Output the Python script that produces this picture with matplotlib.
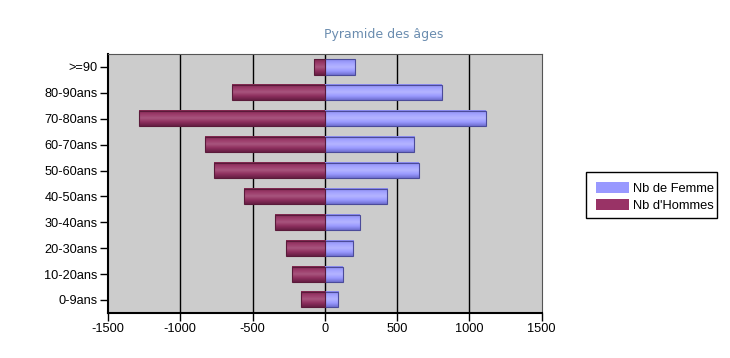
import matplotlib.pyplot as plt
import numpy as np
from matplotlib.colors import LinearSegmentedColormap
from matplotlib.patches import Patch, Rectangle

plt.rcParams['font.family'] = ['Liberation Sans', 'DejaVu Sans']
plt.rcParams['axes.unicode_minus'] = False

ages = ["0-9ans", "10-20ans", "20-30ans", "30-40ans", "40-50ans",
        "50-60ans", "60-70ans", "70-80ans", "80-90ans", ">=90"]
femmes = [94, 124, 198, 242, 433, 650, 617, 1113, 809, 207]
hommes = [168, 226, 270, 346, 558, 767, 829, 1283, 641, 72]

fig = plt.figure(figsize=(7.3, 3.58), dpi=100)
ax = fig.add_axes([0.148, 0.126, 0.594, 0.723])
ax.set_facecolor('#cccccc')

y = np.arange(len(ages))
h = 0.58
bf = ax.barh(y, femmes, height=h, color='#9999ff', edgecolor='#4b4b9a', linewidth=0.8,
             label='Nb de Femme', zorder=3)
bh = ax.barh(y, [-v for v in hommes], height=h, color='#993366', edgecolor='#5a1a3a',
             linewidth=0.8, label="Nb d'Hommes", zorder=3)

# gradient fill for the cylinder look (bottom -> top)
cm_f = LinearSegmentedColormap.from_list('f', ['#6f6fd0', '#9a9aff', '#b4b4ff', '#a3a3ff', '#8888ee'])
cm_h = LinearSegmentedColormap.from_list('h', ['#661f44', '#8e2f5e', '#a8557e', '#9a3a69', '#80284f'])
grad = np.linspace(0, 1, 64).reshape(-1, 1)
for bars, cm in ((bf, cm_f), (bh, cm_h)):
    for b in bars:
        x0, y0 = b.get_x(), b.get_y()
        w, hh = b.get_width(), b.get_height()
        ax.imshow(grad, cmap=cm, aspect='auto', origin='lower',
                  extent=(x0, x0 + w, y0, y0 + hh), zorder=3.5)
    for b in bars:
        b.set_facecolor('none')
        b.set_zorder(4)

ax.set_xlim(-1500, 1500)
ax.set_ylim(-0.5, len(ages) - 0.5)
ax.set_xticks([-1500, -1000, -500, 0, 500, 1000, 1500])
ax.set_yticks(y)
ax.set_yticklabels(ages)
ax.tick_params(labelsize=9.2, length=5.5, width=1, pad=2)
for v in [-1000, -500, 0, 500, 1000]:
    ax.axvline(v, color='black', linewidth=1, zorder=2)

ax.spines['left'].set_linewidth(1.5)
ax.spines['bottom'].set_linewidth(1.5)
ax.spines['top'].set_color('#555555')
ax.spines['right'].set_color('#555555')

fig.text(0.526, 0.905, 'Pyramide des âges', color='#6a8caf', fontsize=9,
         ha='center', va='center', family=['DejaVu Sans'])

handles = [Patch(facecolor='#9999ff', edgecolor='none', label='Nb de Femme'),
           Patch(facecolor='#993366', edgecolor='none', label="Nb d'Hommes")]
leg = fig.legend(handles=handles, loc='upper left', bbox_to_anchor=(0.803, 0.52),
                 fontsize=9.3, frameon=False,
                 handlelength=2.55, handleheight=1.0, handletextpad=0.35,
                 borderpad=0.75, borderaxespad=0, labelspacing=0.3)
# legend box, cut on the right like in the original
fig.add_artist(Rectangle((586 / 730, 1 - 218 / 358), 131 / 730, 46 / 358,
                         transform=fig.transFigure, facecolor='none',
                         edgecolor='black', linewidth=1))

fig.savefig('out.png', dpi=100)
